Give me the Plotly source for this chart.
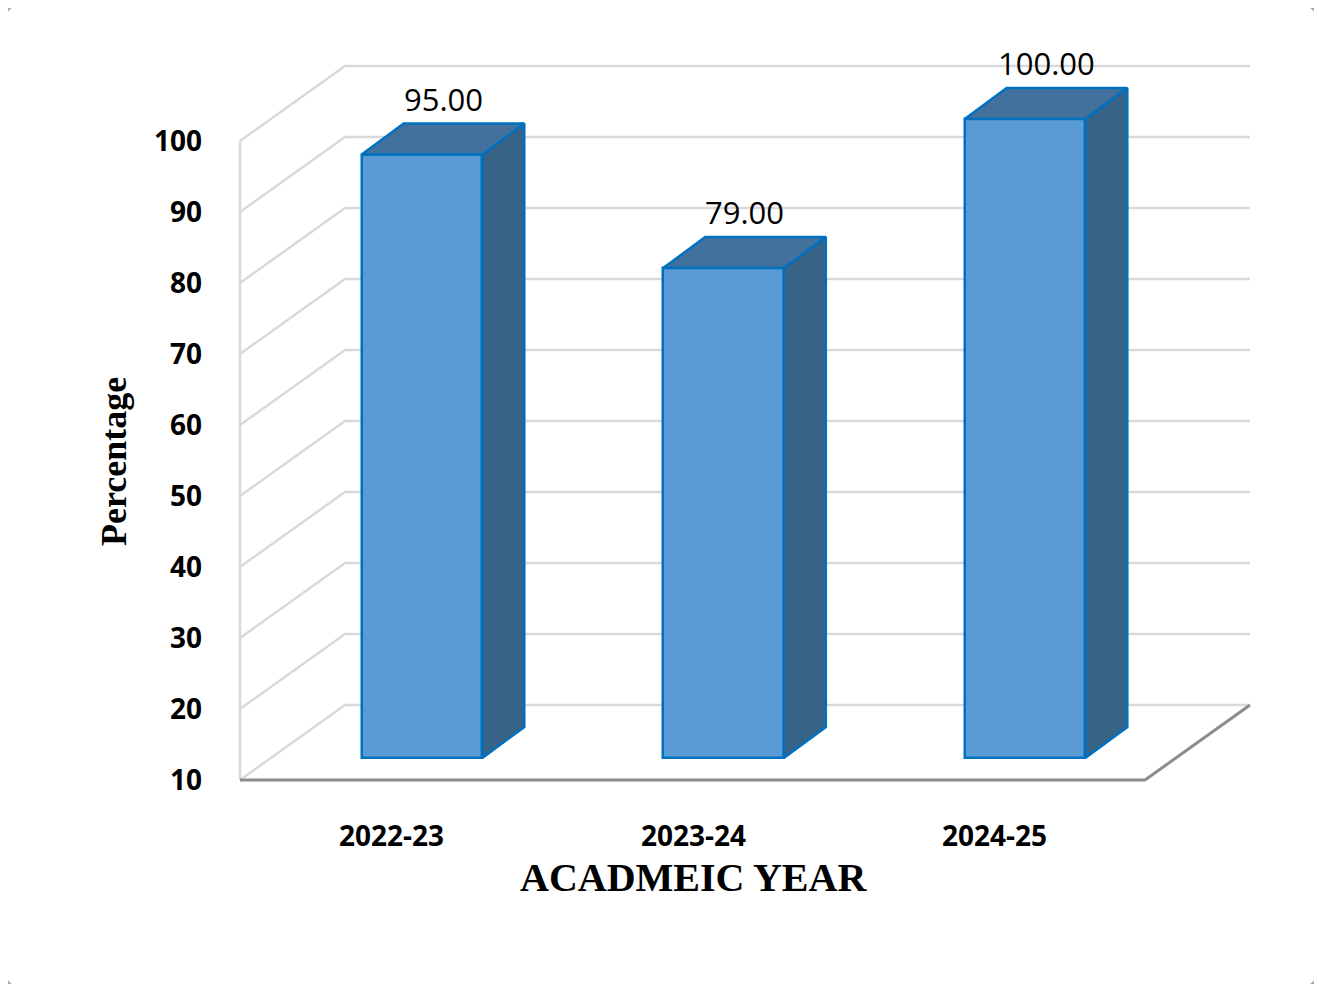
import plotly.graph_objects as go

years = ["2022-23", "2023-24", "2024-25"]
values = [95.00, 79.00, 100.00]
tick_vals = [10, 20, 30, 40, 50, 60, 70, 80, 90, 100]

OFF = 8  # page body margin
W, H = 1322 - 2 * OFF, 992 - 2 * OFF
L, R, T, B = 230 - OFF, 62 - OFF, 30 - OFF, 192 - OFF
PPU_X = 301.5   # px per category
PPU_Y = 7.1     # px per value unit
X0 = -(422 - 230) / PPU_X
X1 = X0 + (W - L - R) / PPU_X
Y0 = 10 - (800 - 758) / PPU_Y
Y1 = Y0 + (H - T - B) / PPU_Y

# depth geometry (category / value units)
FRONT_DX, FRONT_DY = (240 - 422) / PPU_X, -22 / PPU_Y
BACK_DY = 53 / PPU_Y
BACK_X0, BACK_X1 = (345 - 422) / PPU_X, (1250 - 422) / PPU_X
FLOOR_RIGHT = (1145 - 422) / PPU_X
BW = 0.4
BDX, BDY = 42 / PPU_X, 31 / PPU_Y


def px2paper(px, py):
    # px, py in reference-picture pixels
    return (px - OFF - L) / (W - L - R), (H - B - (py - OFF)) / (H - T - B)


fig = go.Figure()
grid = dict(color="#D9D9D9", width=2.5)

# back wall gridlines + left wall diagonals
for v in tick_vals:
    fig.add_shape(type="path", layer="below", line=grid,
                  path=f"M {FRONT_DX},{v + FRONT_DY} L {BACK_X0},{v + BACK_DY} L {BACK_X1},{v + BACK_DY}")
fig.add_shape(type="line", layer="below", line=grid,
              x0=FRONT_DX, x1=FRONT_DX, y0=10 + FRONT_DY, y1=100 + FRONT_DY)
fig.add_shape(type="path", layer="below", line=dict(color="#8C8C8C", width=3),
              path=f"M {FRONT_DX},{10 + FRONT_DY} L {FLOOR_RIGHT},{10 + FRONT_DY} L {BACK_X1},{10 + BACK_DY}")

# bars (front faces)
xs = list(range(len(years)))
fig.add_trace(go.Bar(x=xs, y=[v - 10 for v in values], base=10, width=BW,
                     marker=dict(color="#5B9BD5", line=dict(color="#0070C0", width=2.5)),
                     showlegend=False))

for i, v in zip(xs, values):
    r = i + BW / 2
    l = i - BW / 2
    fig.add_trace(go.Scatter(
        x=[r, r + BDX, r + BDX, r, r], y=[10, 10 + BDY, v + BDY, v, 10],
        fill="toself", fillcolor="#376387", mode="lines",
        line=dict(color="#0070C0", width=2.5), hoverinfo="skip", showlegend=False))
    fig.add_trace(go.Scatter(
        x=[l, r, r + BDX, l + BDX, l], y=[v, v, v + BDY, v + BDY, v],
        fill="toself", fillcolor="#41719C", mode="lines",
        line=dict(color="#0070C0", width=2.5), hoverinfo="skip", showlegend=False))
    fig.add_annotation(x=i + BDX / 2, y=v + BDY, text=f"{v:.2f}", showarrow=False,
                       yanchor="bottom", yshift=2,
                       font=dict(family="Open Sans", size=31, color="#000"))
    fig.add_annotation(x=i - 0.1, y=Y0, yref="y", text=f"<b>{years[i]}</b>", showarrow=False,
                       yshift=-35, font=dict(family="Open Sans", size=28, color="#000"))

for v in tick_vals:
    fig.add_annotation(x=FRONT_DX, y=v + FRONT_DY, text=f"<b>{v}</b>", showarrow=False,
                       xanchor="right", xshift=-36, yshift=1,
                       font=dict(family="Open Sans", size=28, color="#000"))

fig.add_annotation(xref="paper", yref="paper", x=px2paper(92, 0)[0], y=px2paper(0, 462)[1],
                   text="<b>Percentage</b>", textangle=-90, showarrow=False,
                   font=dict(family="Liberation Serif", size=36, color="#000"))
fig.add_annotation(xref="paper", yref="paper", x=px2paper(693, 0)[0], y=px2paper(0, 902)[1],
                   text="<b>ACADMEIC YEAR</b>", showarrow=False,
                   font=dict(family="Liberation Serif", size=40, color="#000"))

# rounded outer border
rad = 28
x_a, y_a = 2, 2
x_b, y_b = 1320, 990
def P(px, py):
    a, b = px2paper(px, py)
    return f"{a:.5f},{b:.5f}"
path = (f"M {P(x_a + rad, y_a)} L {P(x_b - rad, y_a)} Q {P(x_b, y_a)} {P(x_b, y_a + rad)} "
        f"L {P(x_b, y_b - rad)} Q {P(x_b, y_b)} {P(x_b - rad, y_b)} "
        f"L {P(x_a + rad, y_b)} Q {P(x_a, y_b)} {P(x_a, y_b - rad)} "
        f"L {P(x_a, y_a + rad)} Q {P(x_a, y_a)} {P(x_a + rad, y_a)} Z")
fig.add_shape(type="path", path=path, xref="paper", yref="paper",
              line=dict(color="#A6A6A6", width=2), layer="below")

fig.update_layout(
    width=W, height=H, margin=dict(l=L, r=R, t=T, b=B),
    paper_bgcolor="white", plot_bgcolor="white",
    xaxis=dict(range=[X0, X1], visible=False, fixedrange=True),
    yaxis=dict(range=[Y0, Y1], visible=False, fixedrange=True),
    bargap=0, showlegend=False,
)

fig.write_html("out.html")
